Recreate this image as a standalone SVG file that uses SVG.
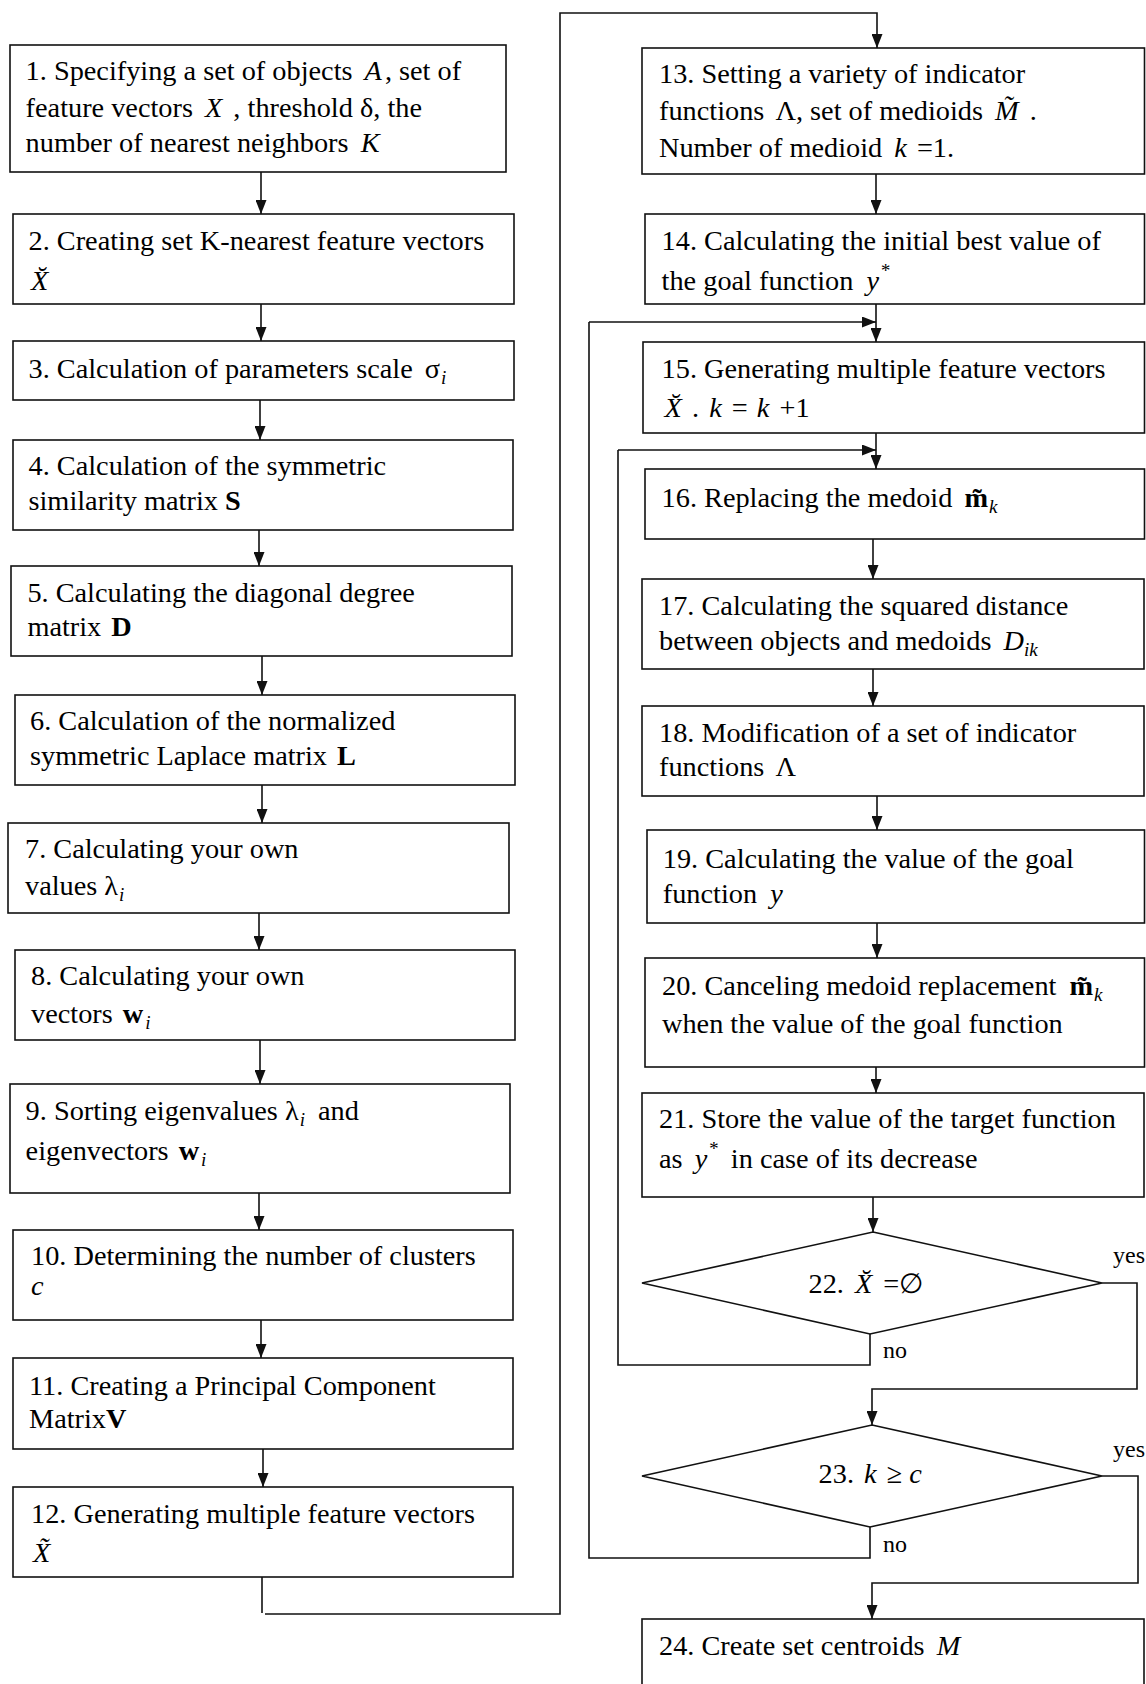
<svg xmlns="http://www.w3.org/2000/svg" width="1146" height="1684" viewBox="0 0 1146 1684">
<style>
.t{font-family:"Liberation Serif","Times New Roman",serif;font-size:28.3px;fill:#000}
.l{font-family:"Liberation Serif","Times New Roman",serif;font-size:24px;fill:#000}
.i{font-style:italic}
.b{font-weight:bold}
.s{font-size:19px;font-style:italic}
.box{fill:#fff;stroke:#111;stroke-width:1.6}
.c{fill:none;stroke:#111;stroke-width:1.6}
</style>
<defs>
<marker id="ah" markerUnits="userSpaceOnUse" markerWidth="14" markerHeight="11" refX="14" refY="5.5" orient="auto">
<path d="M0,0 L14,5.5 L0,11 z" fill="#111"/>
</marker>
</defs>
<rect width="1146" height="1684" fill="#fff"/>

<g id="connectors">
<line class="c" x1="261" y1="172" x2="261" y2="214" marker-end="url(#ah)"/>
<line class="c" x1="261" y1="304" x2="261" y2="341" marker-end="url(#ah)"/>
<line class="c" x1="260" y1="400" x2="260" y2="440" marker-end="url(#ah)"/>
<line class="c" x1="259" y1="530" x2="259" y2="566" marker-end="url(#ah)"/>
<line class="c" x1="262" y1="656" x2="262" y2="695" marker-end="url(#ah)"/>
<line class="c" x1="262" y1="785" x2="262" y2="823" marker-end="url(#ah)"/>
<line class="c" x1="259" y1="913" x2="259" y2="950" marker-end="url(#ah)"/>
<line class="c" x1="260" y1="1040" x2="260" y2="1084" marker-end="url(#ah)"/>
<line class="c" x1="259" y1="1193" x2="259" y2="1230" marker-end="url(#ah)"/>
<line class="c" x1="261" y1="1320" x2="261" y2="1358" marker-end="url(#ah)"/>
<line class="c" x1="263" y1="1449" x2="263" y2="1487" marker-end="url(#ah)"/>
<line class="c" x1="262" y1="1577" x2="262" y2="1613"/>
<polyline class="c" points="265,1614 560,1614 560,13 877,13 877,48" marker-end="url(#ah)"/>
<line class="c" x1="876" y1="174" x2="876" y2="214" marker-end="url(#ah)"/>
<line class="c" x1="876" y1="304" x2="876" y2="342" marker-end="url(#ah)"/>
<line class="c" x1="589" y1="322" x2="876" y2="322" marker-end="url(#ah)"/>
<line class="c" x1="876" y1="433" x2="876" y2="469" marker-end="url(#ah)"/>
<line class="c" x1="618" y1="450" x2="876" y2="450" marker-end="url(#ah)"/>
<line class="c" x1="873" y1="539" x2="873" y2="579" marker-end="url(#ah)"/>
<line class="c" x1="873" y1="669" x2="873" y2="706" marker-end="url(#ah)"/>
<line class="c" x1="877" y1="796" x2="877" y2="830" marker-end="url(#ah)"/>
<line class="c" x1="877" y1="923" x2="877" y2="958" marker-end="url(#ah)"/>
<line class="c" x1="876" y1="1067" x2="876" y2="1093" marker-end="url(#ah)"/>
<line class="c" x1="873" y1="1197" x2="873" y2="1232" marker-end="url(#ah)"/>
<polyline class="c" points="1102,1283 1137,1283 1137,1389 872,1389 872,1425" marker-end="url(#ah)"/>
<polyline class="c" points="870,1334 870,1365 618,1365 618,450"/>
<polyline class="c" points="1102,1476 1138,1476 1138,1583 872,1583 872,1619" marker-end="url(#ah)"/>
<polyline class="c" points="870,1527 870,1558 589,1558 589,322"/>
<text class="l" x="1113" y="1263">yes</text>
<text class="l" x="883" y="1358">no</text>
<text class="l" x="1113" y="1457">yes</text>
<text class="l" x="883" y="1552">no</text>
</g>

<g id="n1"><rect class="box" x="10" y="45" width="496" height="127"/>
<text class="t" x="25.6" y="80">1. Specifying a set of objects <tspan class="i" dx="5">A</tspan><tspan dx="3">, set of</tspan></text>
<text class="t" x="25.6" y="117">feature vectors <tspan class="i" dx="5">X</tspan><tspan dx="4"> , threshold δ, the</tspan></text>
<text class="t" x="25.6" y="152">number of nearest neighbors <tspan class="i" dx="5">K</tspan></text></g>

<g id="n2"><rect class="box" x="13" y="214" width="501" height="90"/>
<text class="t" x="28.5" y="250">2. Creating set K-nearest feature vectors</text>
<text class="t i" x="31" y="290">X&#x306;</text></g>

<g id="n3"><rect class="box" x="13" y="341" width="501" height="59"/>
<text class="t" x="28.5" y="378">3. Calculation of parameters scale <tspan dx="5">σ</tspan><tspan class="s" dx="1" dy="6">i</tspan></text></g>

<g id="n4"><rect class="box" x="13" y="440" width="500" height="90"/>
<text class="t" x="28.5" y="475">4. Calculation of the symmetric</text>
<text class="t" x="28.5" y="510">similarity matrix <tspan class="b">S</tspan></text></g>

<g id="n5"><rect class="box" x="11" y="566" width="501" height="90"/>
<text class="t" x="27.4" y="602">5. Calculating the diagonal degree</text>
<text class="t" x="27.4" y="636">matrix <tspan class="b" dx="3">D</tspan></text></g>

<g id="n6"><rect class="box" x="15" y="695" width="500" height="90"/>
<text class="t" x="30" y="730">6. Calculation of the normalized</text>
<text class="t" x="30" y="765">symmetric Laplace matrix <tspan class="b" dx="3">L</tspan></text></g>

<g id="n7"><rect class="box" x="8" y="823" width="501" height="90"/>
<text class="t" x="25" y="858">7. Calculating your own</text>
<text class="t" x="25" y="895">values λ<tspan class="s" dx="1" dy="6">i</tspan></text></g>

<g id="n8"><rect class="box" x="15" y="950" width="500" height="90"/>
<text class="t" x="31" y="985">8. Calculating your own</text>
<text class="t" x="31" y="1023">vectors <tspan class="b" dx="3">w</tspan><tspan class="s" dx="2" dy="6">i</tspan></text></g>

<g id="n9"><rect class="box" x="10" y="1084" width="500" height="109"/>
<text class="t" x="25.6" y="1120">9. Sorting eigenvalues λ<tspan class="s" dx="1" dy="6">i</tspan><tspan dx="6" dy="-6"> and</tspan></text>
<text class="t" x="25.6" y="1160">eigenvectors <tspan class="b" dx="3">w</tspan><tspan class="s" dx="2" dy="6">i</tspan></text></g>

<g id="n10"><rect class="box" x="13" y="1230" width="500" height="90"/>
<text class="t" x="31" y="1265">10. Determining the number of clusters</text>
<text class="t i" x="31" y="1295">c</text></g>

<g id="n11"><rect class="box" x="13" y="1358" width="500" height="91"/>
<text class="t" x="29" y="1395">11. Creating a Principal Component</text>
<text class="t" x="29" y="1428">Matrix<tspan class="b">V</tspan></text></g>

<g id="n12"><rect class="box" x="13" y="1487" width="500" height="90"/>
<text class="t" x="31" y="1523">12. Generating multiple feature vectors</text>
<text class="t i" x="33" y="1562">X&#x303;</text></g>

<g id="n13"><rect class="box" x="642" y="48" width="502.5" height="126"/>
<text class="t" x="659" y="83">13. Setting a variety of indicator</text>
<text class="t" x="659" y="120">functions <tspan dx="4">Λ</tspan>, set of medioids <tspan class="i" dx="5">M&#x303;</tspan><tspan dx="4"> .</tspan></text>
<text class="t" x="659" y="157">Number of medioid <tspan class="i" dx="5">k</tspan><tspan dx="3"> =1.</tspan></text></g>

<g id="n14"><rect class="box" x="645" y="214" width="499.5" height="90"/>
<text class="t" x="661.6" y="250">14. Calculating the initial best value of</text>
<text class="t" x="661.6" y="290">the goal function <tspan class="i" dx="6">y</tspan><tspan class="s" dx="1" dy="-13">*</tspan></text></g>

<g id="n15"><rect class="box" x="643" y="342" width="501.5" height="91"/>
<text class="t" x="661.6" y="378">15. Generating multiple feature vectors</text>
<text class="t" x="661.6" y="417"><tspan class="i" dx="3">X&#x306;</tspan><tspan dx="3"> . </tspan><tspan class="i" dx="3">k</tspan><tspan dx="3"> = </tspan><tspan class="i" dx="2">k</tspan><tspan dx="3"> +1</tspan></text></g>

<g id="n16"><rect class="box" x="645" y="469" width="499.5" height="70"/>
<text class="t" x="661.6" y="507">16. Replacing the medoid <tspan class="b" dx="5">m&#x303;</tspan><tspan class="s" dx="1" dy="6">k</tspan></text></g>

<g id="n17"><rect class="box" x="642" y="579" width="502" height="90"/>
<text class="t" x="659" y="615">17. Calculating the squared distance</text>
<text class="t" x="659" y="650">between objects and medoids <tspan class="i" dx="5">D</tspan><tspan class="s" dy="6">ik</tspan></text></g>

<g id="n18"><rect class="box" x="642" y="706" width="502" height="90"/>
<text class="t" x="659" y="742">18. Modification of a set of indicator</text>
<text class="t" x="659" y="776">functions <tspan dx="4">Λ</tspan></text></g>

<g id="n19"><rect class="box" x="647" y="830" width="497.5" height="93"/>
<text class="t" x="662.8" y="868">19. Calculating the value of the goal</text>
<text class="t" x="662.8" y="903">function <tspan class="i" dx="6">y</tspan></text></g>

<g id="n20"><rect class="box" x="645" y="958" width="499.5" height="109"/>
<text class="t" x="662" y="995">20. Canceling medoid replacement <tspan class="b" dx="6">m&#x303;</tspan><tspan class="s" dx="1" dy="6">k</tspan></text>
<text class="t" x="662" y="1033">when the value of the goal function</text></g>

<g id="n21"><rect class="box" x="642" y="1093" width="502" height="104"/>
<text class="t" x="659" y="1128">21. Store the value of the target function</text>
<text class="t" x="659" y="1168">as <tspan class="i" dx="5">y</tspan><tspan class="s" dx="1" dy="-13">*</tspan><tspan dx="6" dy="13"> in case of its decrease</tspan></text></g>

<g id="n22"><polygon class="box" points="873,1232 1102,1283 870,1334 642,1283"/>
<text class="t" x="808.5" y="1293">22. <tspan class="i" dx="4">X&#x306;</tspan><tspan dx="4"> =∅</tspan></text></g>

<g id="n23"><polygon class="box" points="872,1425 1102,1476 870,1527 642,1476"/>
<text class="t" x="818.6" y="1483">23. <tspan class="i" dx="3">k</tspan><tspan dx="3"> ≥ </tspan><tspan class="i">c</tspan></text></g>

<g id="n24"><rect class="box" x="642" y="1619" width="502" height="80"/>
<text class="t" x="659" y="1655">24. Create set centroids <tspan class="i" dx="5">M</tspan></text></g>
</svg>
